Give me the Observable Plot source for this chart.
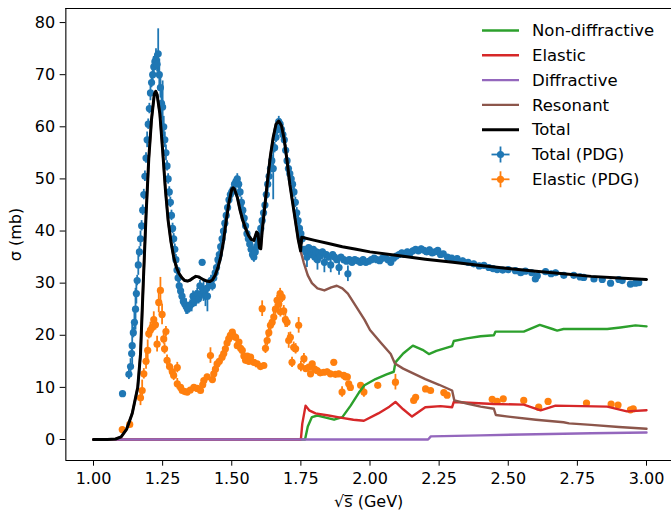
<!DOCTYPE html>
<html><head><meta charset="utf-8">
<script src="https://cdn.jsdelivr.net/npm/d3@7"></script>
<script src="https://cdn.jsdelivr.net/npm/@observablehq/plot@0.6"></script>
<style>body{margin:0;background:#fff;} svg{display:block;}</style>
</head><body><div id="chart"></div>
<script>
// ---- data: PDG total cross section [sqrt(s), sigma, err] ----
const totalPDG = [
[1.105,8.8,0.3],[1.128,12.5,1],[1.134,14.0,1.5],[1.138,16.5,1],[1.140,18.0,4],[1.144,20.5,1],[1.148,22.5,2],
[1.152,25.0,4],[1.155,28.0,2],[1.158,30.5,1],[1.162,33.5,2],[1.166,36.0,1],[1.170,38.5,1.5],[1.174,41.0,1],
[1.178,44.0,1],[1.182,47.0,1],[1.186,50.5,1],[1.190,54.0,1],[1.194,57.5,1.5],[1.198,60.5,1],[1.202,63.5,1],
[1.206,66.5,1.5],[1.210,68.5,1],[1.214,70.0,2],[1.218,71.5,2],[1.222,72.5,1.5],[1.226,73.0,2],[1.230,72.0,1.5],
[1.234,74.0,4.8],[1.238,70.0,3],[1.242,67.5,2],[1.246,64.5,3],[1.250,63.8,5],[1.254,60.0,2],[1.258,57.5,1.5],
[1.262,55.0,1.5],[1.266,52.5,1],[1.270,50.0,1],[1.274,47.5,1],[1.278,45.5,1],[1.282,43.0,1],[1.286,40.5,1],
[1.290,38.5,1],[1.294,36.5,1],[1.298,34.5,1],[1.302,32.5,1],[1.306,31.0,1],[1.310,29.5,1],[1.315,28.5,1],
[1.320,27.5,1.5],[1.325,26.5,1],[1.330,26.0,1],[1.335,25.5,1.5],[1.340,25.0,1],[1.345,25.3,1],[1.350,25.8,1],
[1.355,26.0,1.5],[1.360,27.5,1],[1.365,26.5,1],[1.370,27.0,1.5],[1.375,28.0,1],[1.380,27.0,1],[1.385,29.5,1],
[1.390,28.0,1],[1.393,34.0,0.5],[1.398,28.5,2],[1.405,27.5,2],[1.410,29.0,1.5],[1.412,27.5,3],[1.420,30.0,1],
[1.425,30.5,1],[1.430,29.5,1],[1.435,31.0,1],[1.440,32.0,1],[1.445,33.0,1],[1.450,34.5,1],[1.455,35.5,1],
[1.460,37.0,1],[1.465,38.5,1],[1.470,40.0,1],[1.475,41.5,1],[1.480,43.0,1],[1.485,44.5,1],[1.490,46.0,1],
[1.495,47.0,1],[1.500,47.5,1],[1.505,48.0,1],[1.510,49.0,1],[1.515,49.5,1],[1.520,50.0,1],[1.525,49.0,1],
[1.530,47.5,1],[1.535,45.5,1],[1.540,44.0,1],[1.545,42.5,1],[1.550,41.0,1],[1.555,39.5,1],[1.560,38.5,1],
[1.565,37.5,1],[1.570,36.5,1],[1.575,35.5,1],[1.580,35.0,1],[1.585,36.0,1],[1.590,37.0,1],[1.595,38.0,1],
[1.600,39.0,1],[1.605,40.5,1],[1.610,42.0,1],[1.615,43.5,1],[1.620,45.0,1],[1.625,47.0,1],[1.630,49.0,1.5],
[1.635,50.5,1.5],[1.640,52.0,1],[1.645,53.5,1],[1.650,52.0,6],[1.655,56.0,1],[1.660,58.0,1],[1.665,59.5,1],
[1.670,61.0,1],[1.675,60.5,1],[1.680,59.5,1],[1.685,58.5,1],[1.690,57.5,1],[1.695,55.5,1],[1.700,53.5,1],
[1.705,52.0,1],[1.710,51.0,1],[1.715,50.0,1],[1.720,49.0,1],[1.725,47.5,1],[1.730,45.5,1],[1.735,43.5,1],
[1.740,42.0,1],[1.745,40.5,1],[1.750,39.5,1],[1.755,38.5,1],
[1.762,36.5,0.5],[1.768,36.0,1],[1.772,35.0,2],[1.778,36.8,0.5],[1.785,36.2,1],[1.790,35.5,0.5],[1.795,36.5,0.5],
[1.800,35.0,1],[1.805,36.0,0.5],[1.810,34.5,2],[1.815,35.8,0.5],[1.820,35.2,0.5],[1.828,36.0,0.5],[1.835,34.0,2],
[1.842,35.5,0.5],[1.850,35.0,0.5],[1.858,33.5,1.5],[1.865,35.5,0.5],[1.872,35.0,0.5],[1.880,34.5,0.5],[1.888,33.0,1.5],
[1.895,35.0,0.5],[1.905,34.5,0.5],[1.915,34.2,0.5],[1.920,31.8,1.5],[1.925,34.5,0.5],[1.935,34.0,0.5],[1.945,34.5,0.5],
[1.955,34.3,0.5],[1.965,34.0,0.5],[1.975,34.5,0.5],[1.985,34.0,0.5],[1.995,34.2,0.5],[2.005,34.5,0.5],[2.015,34.8,0.5],
[2.025,34.5,0.5],[2.035,34.3,0.5],[2.045,34.8,0.5],[2.055,35.0,0.5],[2.065,34.5,0.5],[2.075,34.0,0.5],[2.085,34.8,0.5],
[2.095,35.2,0.5],[2.105,35.5,0.5],[2.115,35.8,0.5],[2.125,35.5,0.5],[2.135,36.0,0.5],[2.145,35.8,0.5],[2.155,36.2,0.5],
[2.165,36.5,0.5],[2.175,36.2,0.5],[2.185,36.6,0.5],[2.195,36.3,0.5],[2.205,36.0,0.5],[2.215,36.4,0.5],[2.225,35.8,0.5],
[2.235,36.0,0.5],[2.245,36.3,0.5],[2.255,35.5,0.5],[2.265,35.6,0.5],[2.280,35.0,0.5],[2.295,34.8,0.5],[2.315,34.7,0.5],
[2.335,34.3,0.5],[2.355,34.0,0.5],[2.375,33.7,0.5],[2.395,33.3,0.5],[2.412,33.4,0.5],[2.430,33.0,0.5],[2.445,32.8,0.5],
[2.460,32.6,0.5],[2.480,32.5,0.5],[2.500,32.6,0.5],[2.526,32.4,0.5],[2.545,32.0,0.5],[2.562,32.3,0.5],[2.585,32.0,0.5],
[2.598,30.8,0.5],[2.605,31.4,0.5],[2.635,32.2,0.5],[2.655,31.8,0.5],[2.671,32.0,0.5],[2.701,31.5,0.5],[2.737,31.5,0.5],
[2.760,31.2,0.5],[2.773,31.1,0.5],[2.810,30.8,0.5],[2.840,30.7,0.5],[2.870,30.0,0.5],[2.900,30.7,0.5],[2.912,30.5,0.5],
[2.942,29.8,0.5],[2.960,30.0,0.5],[2.972,30.1,0.5]
];
// ---- PDG elastic cross section [sqrt(s), sigma, err] ----
const elasticPDG = [
[1.104,1.9,0.3],[1.131,2.9,0.3],[1.170,8.0,1.5],[1.176,9.4,2],[1.182,12.6,1],[1.190,15.0,1.5],[1.196,17.1,2],
[1.200,20.3,1],[1.206,21.0,1.5],[1.212,21.5,1],[1.218,23.0,1.5],[1.224,22.0,1],[1.230,18.3,1.5],[1.236,26.3,2],
[1.242,28.6,2.5],[1.248,24.0,2],[1.254,19.3,1],[1.257,17.4,1],[1.262,20.7,1],[1.266,15.2,1],[1.275,14.0,1],
[1.285,13.0,1],[1.290,12.3,1],[1.303,13.8,1],[1.303,10.7,1],[1.315,10.0,0.5],[1.321,9.4,0.5],[1.330,9.2,0.5],
[1.339,9.1,0.5],[1.350,9.5,0.5],[1.363,10.0,0.5],[1.375,9.8,0.5],[1.387,9.4,0.5],[1.395,10.5,0.5],[1.399,11.3,0.5],
[1.411,12.0,0.5],[1.423,16.1,1.5],[1.430,11.5,0.5],[1.435,12.6,0.5],[1.441,13.5,0.5],[1.447,14.5,0.5],[1.455,15.0,0.5],
[1.465,15.8,0.5],[1.471,16.5,0.5],[1.477,17.4,0.5],[1.483,18.5,0.5],[1.489,19.3,0.5],[1.495,20.0,0.5],[1.502,20.6,0.5],
[1.508,19.8,0.5],[1.514,19.6,0.5],[1.520,18.0,0.5],[1.526,18.7,0.5],[1.532,17.5,0.5],[1.538,17.1,0.5],[1.544,16.0,0.5],
[1.550,15.2,0.5],[1.556,16.0,0.5],[1.562,15.0,0.5],[1.568,15.8,0.5],[1.580,14.8,0.5],[1.592,14.5,0.5],[1.604,14.0,0.5],
[1.610,25.1,1.5],[1.616,14.2,0.5],[1.622,17.5,1],[1.628,19.0,1],[1.634,20.5,1],[1.640,21.9,1],[1.646,22.5,1],
[1.652,23.5,1],[1.658,25.0,1],[1.664,26.7,1],[1.670,26.0,1],[1.675,28.0,1],[1.676,24.5,1],[1.682,27.3,1],[1.688,24.7,1],
[1.694,23.0,1.5],[1.700,22.5,1],[1.706,19.0,1.5],[1.712,19.6,1],[1.718,14.8,1],[1.724,17.7,1],[1.731,17.4,1],
[1.742,21.9,1.5],[1.750,14.0,1],[1.761,15.5,1],[1.768,13.6,0.5],[1.779,13.9,0.5],[1.785,12.6,0.5],[1.791,14.5,0.5],
[1.800,13.5,0.5],[1.809,13.2,0.5],[1.820,12.8,0.5],[1.833,12.9,0.5],[1.845,13.0,0.5],[1.857,12.6,0.5],[1.869,14.8,0.5],
[1.875,12.5,0.5],[1.887,12.6,0.5],[1.899,9.1,1],[1.905,12.3,0.5],[1.912,12.0,0.5],[1.918,12.0,0.5],[1.923,10.7,0.5],
[1.929,10.0,0.5],[1.966,10.4,0.5],[1.978,9.1,1],[2.028,10.4,0.5],[2.092,11.0,1.5],[2.158,7.5,0.5],[2.165,8.1,0.5],
[2.201,9.7,0.5],[2.219,9.4,0.5],[2.267,9.0,0.5],[2.279,8.5,0.5],[2.442,7.7,0.3],[2.460,7.3,0.3],[2.482,7.8,0.3],
[2.556,7.5,0.3],[2.610,6.2,0.3],[2.644,7.3,0.3],[2.783,7.0,0.3],[2.872,6.8,0.3],[2.897,6.6,0.3],[2.942,5.7,0.3],[2.952,5.9,0.3]
];
// ---- model curves [sqrt(s), sigma] ----
const totalModel = [
[1.00,0],[1.05,0],[1.08,0.1],[1.10,0.5],[1.12,2.0],[1.14,5.0],[1.16,10],[1.17,16.4],[1.18,30],[1.19,43],[1.20,54],
[1.21,61.5],[1.22,66.3],[1.225,66.8],[1.23,66.2],[1.24,62.5],[1.25,55.5],[1.26,48],[1.27,42],[1.28,38],[1.29,35],
[1.30,33],[1.31,31.8],[1.32,31],[1.33,30.5],[1.34,30.4],[1.35,30.6],[1.36,31.0],[1.37,31.3],[1.38,31.2],[1.39,30.9],
[1.40,30.6],[1.41,30.4],[1.42,30.3],[1.43,30.6],[1.44,31.5],[1.45,33],[1.46,35],[1.47,38],[1.48,42],[1.49,45.5],
[1.50,48],[1.505,48.3],[1.51,48],[1.52,46.5],[1.53,44],[1.54,42],[1.55,40.5],[1.56,39.2],[1.57,38.4],[1.58,38.2],
[1.59,39.8],[1.595,39.5],[1.60,36.8],[1.605,36.6],[1.61,40],[1.62,45],[1.63,50],[1.64,54.5],[1.65,58],[1.66,60.5],
[1.67,61.1],[1.68,60.2],[1.69,57.5],[1.70,53.5],[1.71,49],[1.72,45.5],[1.73,42],[1.74,38.5],[1.749,36.2],
[1.753,38.8],[1.80,38.2],[1.85,37.6],[1.90,37.0],[1.95,36.5],[2.00,36.0],[2.10,35.3],[2.20,34.6],[2.30,34.0],
[2.40,33.4],[2.50,32.8],[2.60,32.3],[2.70,31.8],[2.80,31.3],[2.90,31.0],[3.00,30.7]
];
const resonantHigh = [
[1.76,34],[1.775,31.5],[1.79,30],[1.81,29],[1.835,28.6],[1.86,29.2],[1.88,29.5],[1.90,29.0],[1.92,28.0],[1.95,25.5],
[1.98,23.0],[2.00,21.0],[2.04,18.5],[2.075,16.4],[2.09,14.6],[2.12,13.6],[2.16,12.6],[2.20,11.6],[2.25,10.5],
[2.297,9.4],[2.305,7.5],[2.35,6.9],[2.40,6.3],[2.448,5.9],[2.455,4.7],[2.50,4.4],[2.60,3.8],[2.70,3.3],[2.72,3.1],
[2.80,2.8],[2.90,2.4],[3.00,2.05]
];
const nonDiffractive = [
[1.0,0],[1.765,0],[1.775,2.5],[1.79,4.3],[1.81,4.6],[1.84,4.2],[1.87,3.8],[1.90,4.3],[1.93,6.5],[1.96,9.0],[1.98,10.4],
[2.02,11.6],[2.06,12.5],[2.086,13.0],[2.092,14.8],[2.12,16.5],[2.155,18.0],[2.19,17.2],[2.213,16.4],[2.24,17.0],
[2.297,17.9],[2.303,18.9],[2.35,19.4],[2.40,19.8],[2.448,20.0],[2.454,20.7],[2.556,20.7],[2.614,22.0],[2.66,21.2],
[2.677,20.9],[2.70,21.2],[2.858,21.2],[2.906,21.5],[2.96,21.9],[3.0,21.7]
];
const elasticModel = [
[1.0,0],[1.75,0],[1.755,3],[1.767,6.5],[1.78,5.6],[1.803,5.0],[1.85,4.6],[1.893,4.2],[1.94,3.8],[1.978,3.6],[2.03,5.0],
[2.07,6.3],[2.092,7.2],[2.12,5.8],[2.152,4.4],[2.20,6.2],[2.255,6.4],[2.297,6.2],[2.303,7.2],[2.448,6.8],[2.556,6.7],
[2.617,5.6],[2.671,6.5],[2.858,6.3],[2.929,5.4],[3.0,5.6]
];
const diffractive = [[1.0,0],[2.21,0],[2.22,0.6],[2.4,0.8],[2.6,1.0],[2.8,1.2],[3.0,1.35]];
const xTicks = [1.00,1.25,1.50,1.75,2.00,2.25,2.50,2.75,3.00];
const yTicks = [0,10,20,30,40,50,60,70,80];
const legendItems = ["Non-diffractive","Elastic","Diffractive","Resonant","Total","Total (PDG)","Elastic (PDG)"];
const colors = {nd:"#2ca02c", el:"#d62728", df:"#9467bd", rs:"#8c564b", tot:"#000000", tpdg:"#1f77b4", epdg:"#ff7f0e"};

const resonant = totalModel.filter(d => d[0] <= 1.749).concat(resonantHigh);
const xDom = [0.9, 3.0904], yDom = [-4.03, 82.7];

const errMarks = (data, color) => [
  Plot.ruleX(data, {x: d=>d[0], y1: d=>d[1]-d[2], y2: d=>d[1]+d[2], stroke: color, strokeWidth: 1.8}),
  Plot.dot(data, {x: d=>d[0], y: d=>d[1], r: 3.6, fill: color, stroke: "none"})
];
const lineMark = (data, color, w) => Plot.line(data, {x: d=>d[0], y: d=>d[1], stroke: color, strokeWidth: w, strokeLinejoin: "round", curve: "linear"});

const chart = Plot.plot({
  width: 671, height: 512,
  marginLeft: 65.35, marginRight: 0, marginTop: 8, marginBottom: 52,
  style: {fontFamily: "DejaVu Sans", fontSize: "16px", color: "#000", background: "#fff"},
  x: {domain: xDom},
  y: {domain: yDom},
  marks: [
    ...errMarks(totalPDG, colors.tpdg),
    ...errMarks(elasticPDG, colors.epdg),
    lineMark(nonDiffractive, colors.nd, 2.4),
    lineMark(elasticModel, colors.el, 2.4),
    lineMark(diffractive, colors.df, 2.4),
    lineMark(resonant, colors.rs, 2.4),
    lineMark(totalModel, colors.tot, 3),
    Plot.ruleX([xDom[0]], {stroke: "#000", strokeWidth: 1.1}),
    Plot.ruleY(yDom, {stroke: "#000", strokeWidth: 1.1}),
    Plot.axisX({ticks: xTicks, tickFormat: d => d.toFixed(2), tickSize: 5.7, tickPadding: 6, fontSize: 16,
      label: "√s̅ (GeV)", labelAnchor: "center", labelArrow: "none", labelOffset: 46.5}),
    Plot.axisY({ticks: yTicks, tickSize: 5.7, tickPadding: 5, fontSize: 16,
      label: "σ (mb)", labelAnchor: "center", labelArrow: "none", labelOffset: 56})
  ]
});
document.getElementById("chart").appendChild(chart);

// legend (inside the axes, upper right)
const svg = d3.select(chart);
const lg = svg.append("g").attr("font-family", "DejaVu Sans").attr("font-size", 16.5).attr("text-anchor", "start");
const lineColors = [colors.nd, colors.el, colors.df, colors.rs, colors.tot];
legendItems.forEach((name, i) => {
  const y = 30.5 + 24.8 * i;
  if (i < 5) {
    lg.append("line").attr("x1", 482).attr("x2", 519).attr("y1", y).attr("y2", y)
      .attr("stroke", lineColors[i]).attr("stroke-width", i === 4 ? 3 : 2.4);
  } else {
    const c = i === 5 ? colors.tpdg : colors.epdg;
    lg.append("line").attr("x1", 500.5).attr("x2", 500.5).attr("y1", y - 8).attr("y2", y + 8).attr("stroke", c).attr("stroke-width", 1.8);
    lg.append("line").attr("x1", 491.5).attr("x2", 509.5).attr("y1", y).attr("y2", y).attr("stroke", c).attr("stroke-width", 1.8);
    lg.append("circle").attr("cx", 500.5).attr("cy", y).attr("r", 3.6).attr("fill", c);
  }
  lg.append("text").attr("x", 532).attr("y", y).attr("dy", "0.35em").attr("text-anchor", "start").attr("fill", "#000").text(name);
});
</script>
</body></html>
